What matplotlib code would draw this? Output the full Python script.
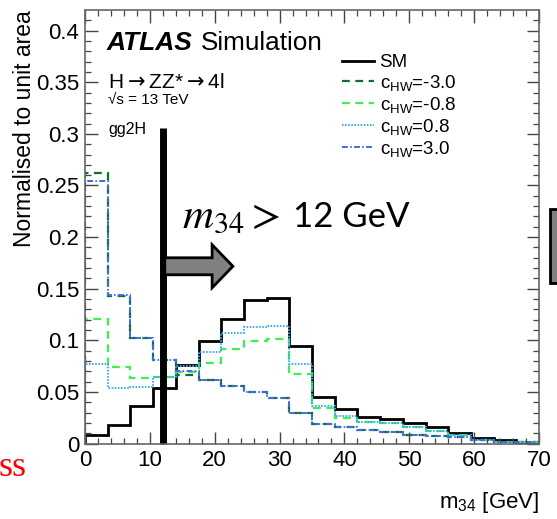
import numpy as np
import matplotlib
matplotlib.use("Agg")
import matplotlib.pyplot as plt
from matplotlib.patches import FancyArrow, Rectangle

plt.rcParams['font.family'] = ['Liberation Sans', 'DejaVu Sans']
plt.rcParams['mathtext.fontset'] = 'custom'
plt.rcParams['mathtext.rm'] = 'Liberation Sans'
plt.rcParams['mathtext.it'] = 'Liberation Sans:italic'

# m34 bins, 3.5 GeV wide
edges = np.arange(0, 70.1, 3.5)

# bin contents
sm = [0.008, 0.018, 0.036, 0.054, 0.076, 0.099, 0.121, 0.139, 0.141, 0.094,
      0.045, 0.033, 0.026, 0.024, 0.020, 0.016, 0.0105, 0.005, 0.0034, 0.0017]
chw_m30 = [0.262, 0.143, 0.102, 0.081, 0.066, 0.062, 0.056, 0.050, 0.044, 0.030,
           0.019, 0.016, 0.013, 0.011, 0.0085, 0.0075, 0.0066, 0.003, 0.0017, 0.0013]
chw_m08 = [0.121, 0.074, 0.063, 0.064, 0.069, 0.078, 0.0915, 0.0995, 0.1015, 0.067,
           0.034, 0.025, 0.0205, 0.0195, 0.016, 0.012, 0.008, 0.0034, 0.0017, 0.0013]
chw_p08 = [0.077, 0.054, 0.055, 0.064, 0.075, 0.0885, 0.107, 0.113, 0.114, 0.077,
           0.036, 0.027, 0.021, 0.0196, 0.0163, 0.0124, 0.0083, 0.0034, 0.0017, 0.0013]
chw_p30 = [0.254, 0.1435, 0.102, 0.081, 0.070, 0.062, 0.056, 0.050, 0.044, 0.030,
           0.019, 0.0157, 0.013, 0.011, 0.0083, 0.0073, 0.0066, 0.003, 0.0017, 0.0013]

labels = ['SM', r'c$_{\mathrm{HW}}$=-3.0', r'c$_{\mathrm{HW}}$=-0.8',
          r'c$_{\mathrm{HW}}$=0.8', r'c$_{\mathrm{HW}}$=3.0']

W, H = 557, 519


def px(x, y):
    # pixel position (from top left) -> figure fraction
    return x / W, 1 - y / H


fig = plt.figure(figsize=(W / 100, H / 100), dpi=100)
ax = fig.add_axes([85 / W, 1 - 443.5 / H, 454 / W, 433.5 / H])

ax.stairs(sm, edges, color='black', lw=2.0, label=labels[0])
ax.stairs(chw_m30, edges, color='#126b30', lw=1.6, ls=(0, (3.5, 2.5)), label=labels[1])
ax.stairs(chw_m08, edges, color='#3cf050', lw=1.6, ls=(0, (3.5, 2.5)), label=labels[2])
ax.stairs(chw_p08, edges, color='#38a8ff', lw=1.4, ls=(0, (0.8, 0.8)), label=labels[3])
ax.stairs(chw_p30, edges, color='#3a6fe0', lw=1.4, ls=(0, (3, 1.2, 0.8, 1.2)), label=labels[4])

ax.set_xlim(0, 70)
ax.set_ylim(0, 0.42)
ax.set_xticks(np.arange(0, 71, 10))
ax.set_xticks(np.arange(0, 71, 2), minor=True)
ax.set_yticks(np.arange(0, 0.41, 0.05))
ax.set_yticks(np.arange(0, 0.42, 0.01), minor=True)
ax.set_yticklabels(['0', '0.05', '0.1', '0.15', '0.2', '0.25', '0.3', '0.35', '0.4'])
ax.tick_params(which='both', direction='in', top=True, right=True,
               color='#444444', labelsize=16)
ax.tick_params(which='major', length=9, width=1.0)
ax.tick_params(which='minor', length=4.5, width=0.9)
ax.tick_params(axis='x', pad=5)
ax.tick_params(axis='y', pad=4)
for s in ax.spines.values():
    s.set_color('#666666')
    s.set_linewidth(1.2)

ax.set_ylabel('Normalised to unit area', loc='top', fontsize=16.5)
ax.yaxis.set_label_coords(-0.108, 1.0)
ax.set_xlabel(r'm$_{34}$ [GeV]', loc='right', fontsize=16)
ax.xaxis.set_label_coords(1.0, -0.108)

leg = ax.legend(loc='upper left', bbox_to_anchor=px(342, 54), bbox_transform=fig.transFigure,
                frameon=False, fontsize=13.5, handlelength=1.7, handletextpad=0.3,
                labelspacing=0.1, borderpad=0, borderaxespad=0)

# ATLAS label block
fig.text(*px(107, 50), 'ATLAS', fontsize=19, fontweight='bold', fontstyle='italic')
fig.text(*px(201, 50), 'Simulation', fontsize=18.8)
fig.text(*px(108, 88), r'H$\rightarrow$ZZ*$\rightarrow$4l', fontsize=15,
         math_fontfamily='dejavusans')
fig.text(*px(108, 104), '\u221as = 13 TeV', fontsize=11)
fig.text(*px(108, 134), 'gg2H', fontsize=11.5)

# cut annotation
ax.plot([12, 12], [0, (443.5 - 128) / 433.5 * 0.42], color='black', lw=5,
        solid_capstyle='butt', clip_on=False)
arr = FancyArrow(12.3, 0.1717, 10.5, 0, width=0.0165, head_width=0.0417,
                 head_length=3.2, length_includes_head=True,
                 facecolor='#808080', edgecolor='black', lw=2, zorder=4)
ax.add_patch(arr)
fig.text(*px(182, 227), r'$m_{34} >$', fontsize=31, math_fontfamily='stix')
fig.text(*px(293, 227), '12 GeV', fontsize=25, family='Lato')

# bits of the slide around the plot
fig.patches.append(Rectangle(px(550, 283), 20 / W, 74 / H, transform=fig.transFigure,
                             facecolor='#808080', edgecolor='black', lw=2))
fig.text(*px(-1, 476), 'ss', fontsize=26, color='red', family='Liberation Serif')

fig.savefig('out.png', dpi=100)
